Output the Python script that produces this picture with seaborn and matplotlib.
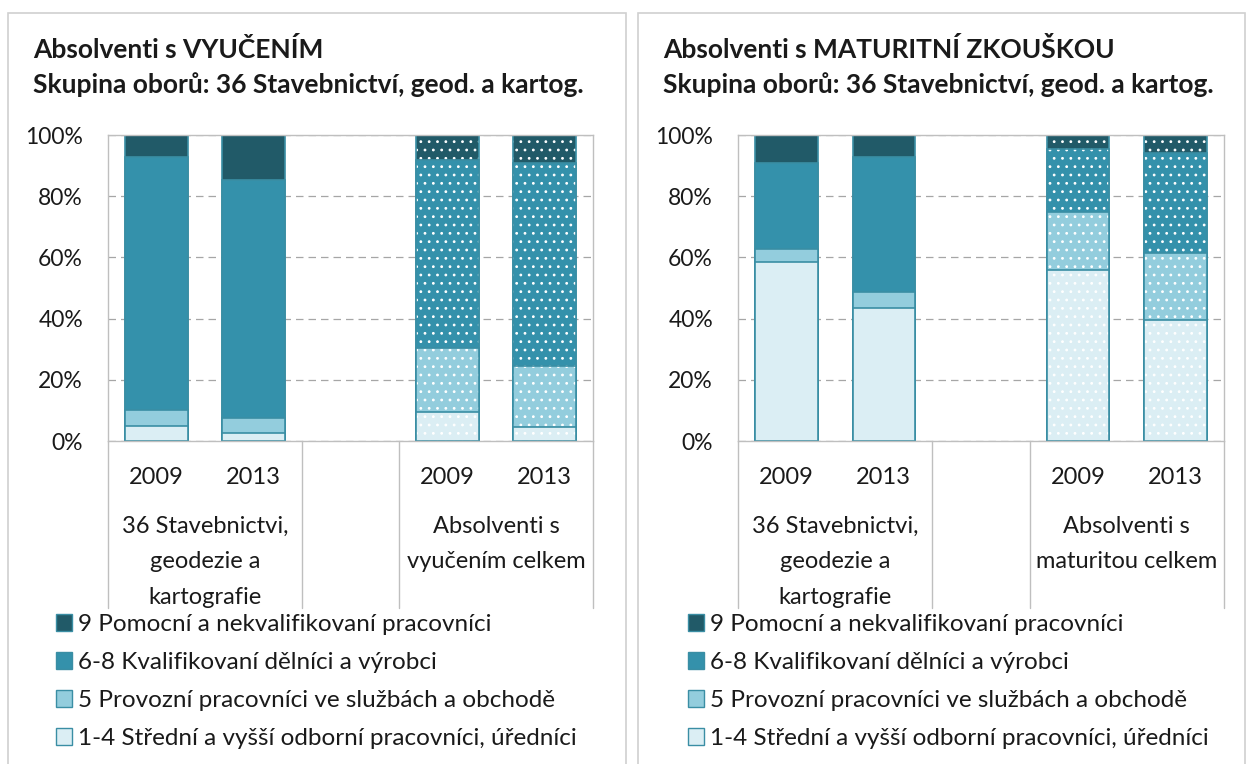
import matplotlib
matplotlib.use("Agg")
import matplotlib.pyplot as plt
import matplotlib.transforms as mtransforms
import seaborn as sns
from matplotlib.patches import Rectangle, Patch
from matplotlib.ticker import PercentFormatter

# ==========================================
# DATA (shares in %)
# ==========================================

years = ["2009", "2013", "2009", "2013"]
bar_pos = [0, 1, 3, 4]

series_labels = [
    "9 Pomocní a nekvalifikovaní pracovníci",
    "6-8 Kvalifikovaní dělníci a výrobci",
    "5 Provozní pracovníci ve službách a obchodě",
    "1-4 Střední a vyšší odborní pracovníci, úředníci",
]

# absolventi s vyučením
vyu_9 = [7.1, 14.7, 8.2, 9.3]
vyu_6_8 = [82.8, 77.7, 61.5, 66.2]
vyu_5 = [5.1, 5.1, 20.7, 19.8]
vyu_1_4 = [5.0, 2.5, 9.6, 4.7]

# absolventi s maturitou
mat_9 = [9.0, 7.2, 4.5, 5.8]
mat_6_8 = [28.1, 44.2, 20.7, 32.7]
mat_5 = [4.4, 5.2, 18.9, 21.8]
mat_1_4 = [58.5, 43.4, 55.9, 39.7]

groups_vyu = ["36 Stavebnictvi,\ngeodezie a\nkartografie", "Absolventi s\nvyučením celkem"]
groups_mat = ["36 Stavebnictvi,\ngeodezie a\nkartografie", "Absolventi s\nmaturitou celkem"]

titles_vyu = ["Absolventi s VYUČENÍM", "Skupina oborů: 36 Stavebnictví, geod. a kartog."]
titles_mat = ["Absolventi s MATURITNÍ ZKOUŠKOU", "Skupina oborů: 36 Stavebnictví, geod. a kartog."]

colors = ["#215a68", "#3491ab", "#93cddd", "#dbeef4"]
EDGE = "#3a8ea4"
GRAY = "#bfbfbf"
TXT = "#1a1a1a"

# ==========================================
# STYLE
# ==========================================

sns.set_theme(style="white")
plt.rcParams["font.family"] = ["Lato", "DejaVu Sans"]
plt.rcParams["hatch.linewidth"] = 0.8

W, H = 1247, 764
fig = plt.figure(figsize=(W / 100, H / 100), dpi=100)


def px_box(x0, y0, x1, y1):
    return [x0 / W, 1 - y1 / H, (x1 - x0) / W, (y1 - y0) / H]


def draw_panel(ax, layers, groups, titles, title_x, legend_x):
    # stacked bars by overlaying cumulative heights, top layer first
    cum = [100.0] * 4
    for vals, col in zip(layers, colors):
        plain_x, plain_y, hat_x, hat_y = [], [], [], []
        for i, p in enumerate(bar_pos):
            if i < 2:
                plain_x.append(p)
                plain_y.append(cum[i])
            else:
                hat_x.append(p)
                hat_y.append(cum[i])
        sns.barplot(x=plain_x, y=plain_y, native_scale=True, width=0.64,
                    color=col, saturation=1, edgecolor=EDGE, linewidth=1.2,
                    errorbar=None, ax=ax)
        n0 = len(ax.patches)
        sns.barplot(x=hat_x, y=hat_y, native_scale=True, width=0.64,
                    color=col, saturation=1, edgecolor="white", linewidth=0,
                    hatch="..", errorbar=None, ax=ax)
        for p in list(ax.patches[n0:]):
            ax.add_patch(Rectangle(p.get_xy(), p.get_width(), p.get_height(),
                                   fill=False, edgecolor=EDGE, linewidth=1.2))
        cum = [c - v for c, v in zip(cum, vals)]

    ax.set_xlim(-0.5, 4.5)
    ax.set_ylim(0, 100)
    ax.set_yticks([0, 20, 40, 60, 80, 100])
    ax.yaxis.set_major_formatter(PercentFormatter(decimals=0))
    ax.set_xticks([])
    ax.set_xlabel("")
    ax.set_ylabel("")
    ax.tick_params(axis="y", length=0, pad=18, labelsize=16.5, labelcolor=TXT)
    ax.set_axisbelow(True)
    ax.yaxis.grid(True, color="#a6a6a6", linestyle=(0, (6, 4)), linewidth=0.9)
    for s in ax.spines.values():
        s.set_visible(True)
        s.set_color(GRAY)
        s.set_linewidth(1.0)

    # multi-level category axis
    trans = mtransforms.blended_transform_factory(ax.transData, ax.transAxes)
    for x in [-0.5, 1.5, 2.5, 4.5]:
        ax.plot([x, x], [0, -0.546], transform=trans, color=GRAY, lw=1.0, clip_on=False)
    for p, y in zip(bar_pos, years):
        ax.text(p, -0.118, y, transform=trans, ha="center", va="center",
                fontsize=17, color=TXT)
    for gx, g in zip([0.5, 3.5], groups):
        ax.text(gx, -0.245, g, transform=trans, ha="center", va="top", fontsize=17,
                linespacing=1.85, color=TXT)

    # titles
    fig.text(title_x / W, 1 - 58 / H, titles[0], fontsize=19, fontweight="bold",
             ha="left", va="baseline", color=TXT)
    fig.text(title_x / W, 1 - 93 / H, titles[1], fontsize=19, fontweight="bold",
             ha="left", va="baseline", color=TXT)

    handles = [Patch(facecolor=c, edgecolor=EDGE, linewidth=1.0) for c in colors]
    ax.legend(handles, series_labels, loc="upper left",
              bbox_to_anchor=(legend_x / W, 1 - 614 / H), bbox_transform=fig.transFigure,
              frameon=False, borderpad=0, borderaxespad=0, handlelength=0.66,
              handleheight=0.66, handletextpad=0.25, labelspacing=0.7,
              fontsize=17.5, labelcolor=TXT)


ax1 = fig.add_axes(px_box(108, 135, 593, 441))
ax2 = fig.add_axes(px_box(738, 135, 1224, 441))

draw_panel(ax1, [vyu_9, vyu_6_8, vyu_5, vyu_1_4], groups_vyu, titles_vyu, 33, 56)
draw_panel(ax2, [mat_9, mat_6_8, mat_5, mat_1_4], groups_mat, titles_mat, 663, 688)

# panel frames
for x0, x1 in [(8, 626), (638, 1245)]:
    fig.patches.append(Rectangle((x0 / W, -0.05), (x1 - x0) / W, 1.05 - 13 / H,
                                 transform=fig.transFigure, fill=False,
                                 edgecolor="#d0d0d0", linewidth=1.2))

fig.savefig("out.png", dpi=100)
